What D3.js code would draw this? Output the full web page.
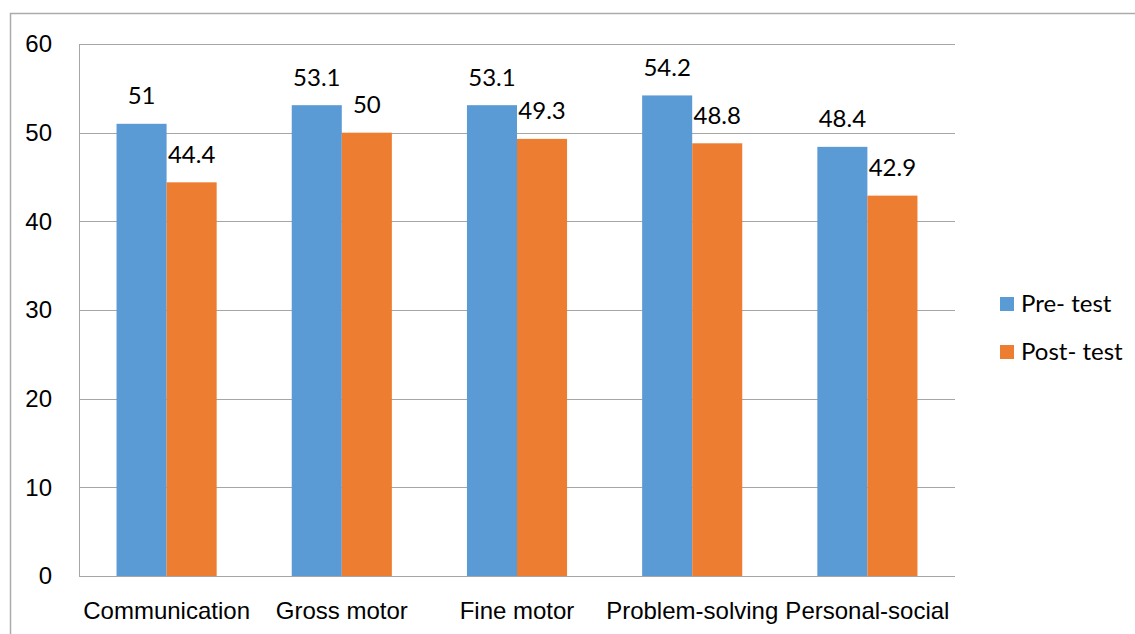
<!DOCTYPE html>
<html>
<head>
<meta charset="utf-8">
<script src="https://cdn.jsdelivr.net/npm/d3@7"></script>
<style>
  html, body { margin: 0; padding: 0; background: #fff; }
  svg { display: block; font-family: Lato, "Open Sans", "Liberation Sans", sans-serif; }
</style>
</head>
<body>
<svg id="chart" width="1135" height="634"></svg>
<script>
const categories = ["Communication", "Gross motor", "Fine motor", "Problem-solving", "Personal-social"];
const preTest = [51, 53.1, 53.1, 54.2, 48.4];
const postTest = [44.4, 50, 49.3, 48.8, 42.9];
const seriesNames = ["Pre- test", "Post- test"];
const seriesColors = ["#5b9bd5", "#ed7d31"];
const yTicks = [0, 10, 20, 30, 40, 50, 60];

const FONT = 24;
const svg = d3.select("#chart");
const margin = { left: 79, right: 1135 - 955, top: 44, bottom: 634 - 576 };
const W = 1135, H = 634;
const innerW = W - margin.left - margin.right;
const innerH = H - margin.top - margin.bottom;

// outer chart frame
svg.append("rect")
  .attr("x", 10.5).attr("y", 13.5)
  .attr("width", W + 10).attr("height", H + 10)
  .attr("fill", "none").attr("stroke", "#ababab").attr("stroke-width", 1.5);

const g = svg.append("g").attr("transform", `translate(${margin.left},${margin.top})`);

const x0 = d3.scaleBand().domain(categories).range([0, innerW]).paddingInner(0).paddingOuter(0);
const y = d3.scaleLinear().domain([0, 60]).range([innerH, 0]);

// gridlines
g.append("g").selectAll("line").data(yTicks).join("line")
  .attr("x1", 0).attr("x2", innerW)
  .attr("y1", d => Math.round(y(d)) + 0.5).attr("y2", d => Math.round(y(d)) + 0.5)
  .attr("stroke", "#a6a6a6").attr("stroke-width", 1);

// left axis line
g.append("line")
  .attr("x1", 0.5).attr("x2", 0.5).attr("y1", 0).attr("y2", innerH)
  .attr("stroke", "#a6a6a6");

// y tick labels
const yAxis = d3.axisLeft(y).tickValues(yTicks).tickSize(0).tickPadding(27);
const yg = g.append("g").call(yAxis);
yg.select(".domain").remove();
yg.selectAll("text").attr("font-size", FONT).attr("fill", "#000").attr("font-family", null);

// x category labels
const xAxis = d3.axisBottom(x0).tickSize(0).tickPadding(26);
const xg = g.append("g").attr("transform", `translate(0,${innerH})`).call(xAxis);
xg.select(".domain").remove();
xg.selectAll("text").attr("font-size", FONT).attr("fill", "#000").attr("font-family", null);

// bars
const barW = x0.bandwidth() * 0.2857;
const rows = categories.map((c, i) => ({ c, vals: [preTest[i], postTest[i]] }));
const grp = g.selectAll(".cat").data(rows).join("g")
  .attr("transform", d => `translate(${x0(d.c) + x0.bandwidth() / 2 - barW},0)`);

grp.selectAll("rect").data(d => d.vals).join("rect")
  .attr("x", (d, i) => i * barW)
  .attr("y", d => y(d))
  .attr("width", barW)
  .attr("height", d => innerH - y(d))
  .attr("fill", (d, i) => seriesColors[i]);

grp.selectAll("text").data(d => d.vals).join("text")
  .attr("x", (d, i) => i * barW + barW / 2)
  .attr("y", d => y(d) - 19.5)
  .attr("text-anchor", "middle")
  .attr("font-size", FONT)
  .attr("fill", "#000")
  .text(d => d);

// legend
const legend = svg.append("g").attr("transform", "translate(1000,304)");
seriesNames.forEach((name, i) => {
  const row = legend.append("g").attr("transform", `translate(0,${i * 48})`);
  row.append("rect").attr("x", 0).attr("y", -7).attr("width", 14).attr("height", 14).attr("fill", seriesColors[i]);
  row.append("text").attr("x", 21).attr("y", 0).attr("dy", "0.35em")
    .attr("font-size", FONT).attr("fill", "#000").text(name);
});
</script>
</body>
</html>
